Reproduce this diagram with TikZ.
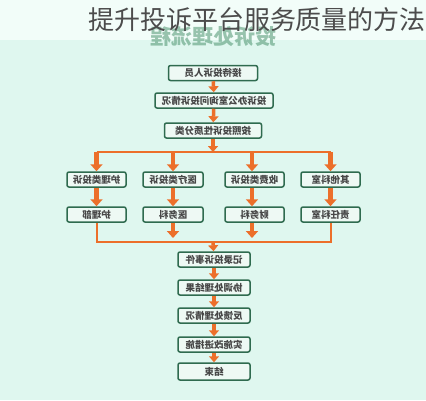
\documentclass[tikz,border=0pt]{standalone}
\usepackage{fontspec}
\setmainfont{Noto Sans CJK SC}
\usetikzlibrary{arrows.meta, positioning}
\definecolor{topbg}{HTML}{F2FDF9}
\definecolor{mintbg}{HTML}{DFF7EF}
\definecolor{boxline}{HTML}{2F6B4F}
\definecolor{boxfill}{HTML}{EEF9F4}
\definecolor{flowor}{HTML}{EC6F2A}
\definecolor{headgreen}{HTML}{3E8A62}

\begin{document}
\begin{tikzpicture}[x=1pt,y=-1pt]
        % Setup the styles
        \tikzset{box style/.style={draw=boxline,
                                   fill=boxfill,
                                   line width=1.5pt,
                                   rounded corners=2pt,
                                   minimum height=15pt,
                                   inner sep=0pt,
                                   text=black!72,
                                   font=\fontsize{9.5}{10}\bfseries,
                                   xscale=-1}}
        \tikzset{flow arrow/.style={draw=flowor,
                                    line width=3.5pt,
                                    -{Triangle[width=10pt,length=6pt]}}}
        \tikzset{big arrow/.style={draw=flowor,
                                   line width=4.5pt,
                                   -{Triangle[width=12pt,length=7pt]}}}
        \tikzset{flow line/.style={draw=flowor,
                                   line width=1.8pt}}

        % Background
        \useasboundingbox (0,0) rectangle (426,400);
        \fill[topbg] (0,0) rectangle (426,40);
        \fill[mintbg] (0,40) rectangle (426,400);

        % Headings
        \node[xscale=-1, text=headgreen, opacity=0.5,
              font=\fontsize{21}{21}\bfseries] (header) at (213,37) {投诉处理流程};
        \node[text=black!70, font=\fontsize{26}{26}\selectfont] (title) at (257,20)
              {提升投诉平台服务质量的方法};

        % Draw the steps
        \node[box style, minimum width=89pt] at (213,73) (reception) {接待投诉人员};
        \node[box style, minimum width=118pt] at (214,100.5) (inquiry) {投诉办公室询问投诉情况};
        \node[box style, minimum width=97pt] at (213,130.5) (classify) {按照投诉性质分类};

        \node[box style, minimum width=59pt] at (96.5,179.5) (nurse) {护理类投诉};
        \node[box style, minimum width=60pt] at (173,179.5) (medic) {医疗类投诉};
        \node[box style, minimum width=59pt] at (254.5,179.5) (fee) {收费类投诉};
        \node[box style, minimum width=59pt] at (330.5,179.5) (other) {其他科室};

        \node[box style, minimum width=59pt] at (96.5,214.5) (nursedept) {护理部};
        \node[box style, minimum width=60pt] at (173,214.5) (meddept) {医务科};
        \node[box style, minimum width=59pt] at (254.5,214.5) (findept) {财务科};
        \node[box style, minimum width=59pt] at (330.5,214.5) (respdept) {责任科室};

        \node[box style, minimum width=72pt] at (214,259.5) (record) {记录投诉事件};
        \node[box style, minimum width=72pt] at (214,287.5) (coord) {协调处理结果};
        \node[box style, minimum width=72pt] at (214,315.5) (feedback) {反馈处理情况};
        \node[box style, minimum width=72pt] at (214,344.5) (improve) {实施改进措施};
        \node[box style, minimum width=72pt, minimum height=17pt] at (214,371.5) (finish) {结束};

        % Split and merge points
        \coordinate (splitA) at (96.5,152);
        \coordinate (splitB) at (173,152);
        \coordinate (splitC) at (252,152);
        \coordinate (splitD) at (330.5,152);
        \coordinate (splitM) at (213,152);
        \coordinate (mergeA) at (97,242);
        \coordinate (mergeD) at (331,242);
        \coordinate (mergeM) at (213,242);
        \coordinate (endB) at (173,238);
        \coordinate (endC) at (252,238);

        % Connect the steps
        \draw[flow arrow] (reception) -- (inquiry);
        \draw[flow arrow] (inquiry) -- (classify);
        \draw[flow arrow] (classify) -- (splitM);
        \draw[flow line] (splitA) -- (splitD);
        \draw[big arrow] (splitA) -- (nurse);
        \draw[big arrow] (splitB) -- (medic);
        \draw[big arrow] (splitC) -- (fee.north -| splitC);
        \draw[big arrow] (splitD) -- (other);

        \draw[big arrow] (nurse) -- (nursedept);
        \draw[big arrow] (medic) -- (meddept);
        \draw[big arrow] (fee.south -| splitC) -- (findept.north -| splitC);
        \draw[big arrow] (other) -- (respdept);

        \draw[flow line] (nursedept.south -| mergeA) -- (mergeA) -- (mergeD) -- (respdept.south -| mergeD);
        \draw[big arrow] (meddept) -- (endB);
        \draw[big arrow] (findept.south -| endC) -- (endC);
        \draw[flow arrow] (mergeM) -- (record);

        \draw[flow arrow] (record) -- (coord);
        \draw[flow arrow] (coord) -- (feedback);
        \draw[flow arrow] (feedback) -- (improve);
        \draw[flow arrow] (improve) -- (finish);
\end{tikzpicture}
\end{document}
